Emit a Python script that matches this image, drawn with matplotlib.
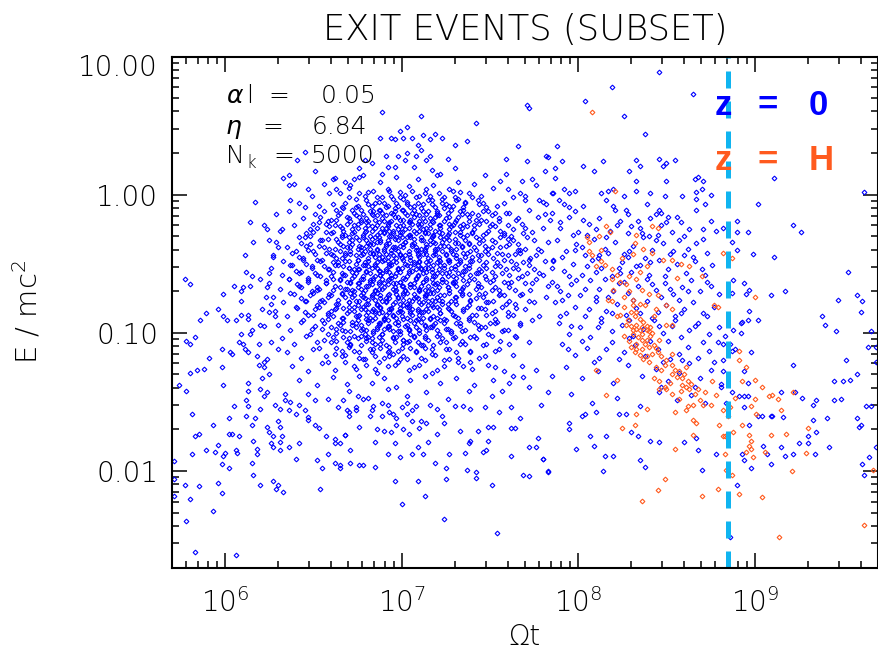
import numpy as np
import matplotlib
matplotlib.use("Agg")
import matplotlib.pyplot as plt

plt.rcParams['font.family'] = ['DejaVu Sans']
plt.rcParams['font.weight'] = 200
plt.rcParams['mathtext.fontset'] = 'custom'
plt.rcParams['mathtext.rm'] = 'DejaVu Sans:weight=200'

# exit events, stored as (log10 Omega t, log10 E/mc^2)
blue_left = [
    (5.77,-0.61),(5.80,-0.65),(5.78,-1.06),(5.80,-1.08),(5.83,-1.03),(5.71,-1.93),(5.74,-1.38),(5.78,-1.42),
    (5.80,-1.29),(5.84,-1.27),(5.88,-1.26),(5.91,-1.18),(5.81,-1.59),(5.83,-1.75),(5.85,-1.73),(5.81,-1.88),
    (5.71,-2.06),(5.77,-2.10),(5.71,-2.18),(5.80,-2.20),(5.78,-2.36),(5.83,-2.59),(6.06,-2.61),(5.93,-2.29),
    (5.85,-2.11),(5.89,-1.85),(5.94,-1.86),(5.96,-1.81),(5.96,-2.09),(5.98,-2.16),(5.98,-1.95),(5.99,-1.89),
    (6.00,-1.87),(6.02,-1.98),(6.06,-1.85),(6.07,-1.87),(6.08,-1.75),(6.02,-1.73),(6.04,-1.73),(5.93,-1.67),
    (6.05,-1.53),(6.02,-1.62),(5.98,-1.25),(5.99,-1.38),(6.03,-1.14),(6.04,-1.15),(6.08,-1.07),(6.09,-1.01),
    (6.10,-1.08),(5.98,-1.12),(5.96,-0.83),(5.99,-0.88),(6.01,-0.91),(6.06,-0.91),(5.86,-0.91),(5.89,-0.86),
    (5.99,-0.72),(6.05,-0.66),(6.09,-0.77),(6.09,-0.70),(6.10,-0.67),(6.14,-0.66),(6.12,-0.56),(6.15,-0.59),
    (6.09,-0.87),(6.13,-0.87),(6.13,-0.90),(6.11,-0.44),(6.16,-0.34),(6.14,-0.20),(6.17,-0.05),(6.11,-1.12),
    (6.13,-1.14),(6.15,-0.98),(6.14,-1.01),(6.13,-1.36),(6.13,-1.42),(6.12,-1.49),(6.13,-1.53),(6.15,-1.67),
    (6.12,-1.60),(6.16,-2.03),(6.15,-1.94),(6.18,-1.88),(6.20,-2.10),(6.20,-0.61),(6.21,-0.83),(6.20,-0.94),
    (6.22,-0.95),(6.22,-0.22),(6.24,-0.25),(6.25,-0.33),(6.27,-0.45),(6.25,-0.57),(6.24,-0.67),(6.23,-0.74),
    (6.26,-0.79),(6.28,-0.88),(6.25,-0.85),(6.29,-0.14),(6.30,-0.38),(6.32,-0.25),(6.33,-2.15),(6.29,-2.13),
    (6.27,-2.07),(6.30,-2.10),(6.26,-1.80),(6.27,-1.83),(6.31,-1.85),(6.32,-1.75),(6.27,-1.75),(6.24,-1.68),
    (6.25,-1.72),(6.20,-1.55),(6.17,-1.62),(6.20,-1.41),(6.24,-1.43),(6.22,-1.46),(6.22,-1.25),(6.25,-1.30),
    (6.19,-1.23),(6.21,-1.33),(6.18,-1.17),(6.22,-1.21),(6.24,-1.19),(6.19,-1.08),(6.26,-1.07),(6.30,-1.12),
    (6.16,-1.78),(6.18,-1.84),(6.28,-1.52),(6.31,-1.55),(6.34,-1.49),(6.30,-1.64),(6.31,-1.68),
    (6.34,-1.44),(6.37,-1.50),(6.42,-1.52),(6.36,-1.56),(6.40,-1.59),(6.45,-1.56),(6.47,-1.63),(6.51,-1.67),
    (6.53,-1.69),(6.57,-1.75),(6.62,-1.80),(6.62,-1.77),(6.68,-1.74),(6.42,-1.80),(6.31,-1.79),(6.36,-1.83),
    (6.40,-1.91),(6.52,-1.92),(6.55,-1.98),(6.58,-1.88),(6.62,-1.94),(6.65,-1.96),(6.71,-1.94),(6.76,-1.96),
    (6.54,-2.13),(6.47,-1.61),(6.51,-1.49),(6.64,-1.54),(6.67,-1.49),(6.70,-1.57),(6.75,-1.46),(6.74,-1.56),
]

blue_upper = [
    (6.89,0.60),(7.11,0.57),(7.42,0.52),(7.71,0.65),(7.72,0.63),(7.66,0.35),(7.30,0.36),(7.37,0.39),
    (7.23,0.41),(7.16,0.40),(7.19,0.44),(7.12,0.43),(7.03,0.49),(6.99,0.46),(7.01,0.41),(6.96,0.40),
    (6.94,0.41),(6.88,0.41),(6.91,0.28),(7.06,0.41),(7.09,0.36),(7.59,0.26),(7.71,0.24),(7.83,0.27),
    (7.47,0.14),(7.59,0.15),(7.68,0.10),(7.74,0.11),(7.76,0.07),(7.67,0.01),(7.70,-0.01),(7.60,0.04),
    (7.78,-0.04),(7.81,-0.14),(7.85,-0.13),(7.85,0.01),(7.26,0.26),(7.30,0.19),(7.32,0.09),(7.16,0.28),
    (7.14,0.25),(7.17,0.18),(7.20,0.14),(7.08,0.28),(7.11,0.32),(7.07,0.20),(7.03,0.30),(7.02,0.25),
    (6.98,0.28),(6.96,0.20),(6.79,0.25),(6.83,0.23),(6.76,0.19),(6.89,0.15),(6.92,0.20),
    (6.41,0.25),(6.45,0.31),(6.51,0.17),(6.33,0.12),(6.36,0.14),(6.36,0.07),(6.39,0.08),(6.37,-0.04),
    (6.42,-0.06),(6.45,-0.09),(6.47,0.04),(6.49,-0.01),(6.56,0.08),(6.59,0.01),(6.61,0.11),(6.63,0.04),
    (6.65,0.01),(6.68,0.09),(6.71,0.07),(6.73,0.11),(6.76,0.13),
]

blue_core = [
    (6.62,0.12),(6.70,0.05),(6.78,0.14),(6.81,0.02),(6.88,0.09),(6.93,0.03),(6.97,0.13),(7.04,0.06),
    (7.09,0.11),(7.13,0.01),(7.18,0.07),(7.22,0.15),(7.27,0.04),(7.33,0.02),(7.41,0.08),(7.45,-0.01),
    (7.52,0.05),(7.56,0.10),(7.63,-0.02),(6.74,-0.03),(6.85,-0.06),(6.99,-0.02),(7.07,-0.08),(7.15,-0.04),
    (7.25,-0.07),(7.36,-0.05),(7.48,-0.09),(7.58,-0.06),(7.70,-0.04),(6.53,-0.08),(6.66,-0.09),(6.91,-0.09),
    (7.02,0.00),(7.30,-0.02),
    (6.36,-0.12),(6.44,-0.17),(6.51,-0.14),(6.58,-0.19),(6.63,-0.11),(6.69,-0.16),(6.73,-0.13),(6.77,-0.18),
    (6.82,-0.12),(6.86,-0.15),(6.90,-0.19),(6.94,-0.13),(6.98,-0.16),(7.01,-0.11),(7.05,-0.18),(7.08,-0.14),
    (7.12,-0.12),(7.16,-0.17),(7.20,-0.13),(7.24,-0.19),(7.28,-0.11),(7.32,-0.16),(7.37,-0.14),(7.42,-0.18),
    (7.46,-0.12),(7.51,-0.15),(7.55,-0.19),(7.61,-0.13),(7.66,-0.17),(7.72,-0.11),(7.77,-0.16),(6.96,-0.10),
    (7.10,-0.19),(6.80,-0.17),(7.35,-0.11),(7.03,-0.15),(6.87,-0.11),(7.19,-0.16),
    (6.31,-0.26),(6.39,-0.22),(6.46,-0.28),(6.52,-0.24),(6.57,-0.21),(6.61,-0.27),(6.65,-0.23),(6.68,-0.29),
    (6.72,-0.25),(6.75,-0.21),(6.79,-0.27),(6.83,-0.23),(6.86,-0.29),(6.89,-0.24),(6.92,-0.21),(6.95,-0.28),
    (6.98,-0.25),(7.01,-0.22),(7.04,-0.29),(7.07,-0.26),(7.10,-0.23),(7.13,-0.28),(7.16,-0.21),(7.19,-0.26),
    (7.22,-0.24),(7.26,-0.29),(7.29,-0.22),(7.33,-0.27),(7.37,-0.23),(7.40,-0.28),(7.44,-0.21),(7.49,-0.26),
    (7.53,-0.23),(7.58,-0.28),(7.63,-0.25),(7.68,-0.21),(7.74,-0.27),(7.80,-0.24),(6.93,-0.26),(7.06,-0.21),
    (7.18,-0.29),(6.81,-0.22),(7.27,-0.25),(6.99,-0.29),(7.12,-0.25),(6.88,-0.27),(7.35,-0.21),
    (6.29,-0.34),(6.35,-0.38),(6.42,-0.31),(6.48,-0.36),(6.54,-0.33),(6.59,-0.39),(6.63,-0.32),(6.67,-0.37),
    (6.70,-0.34),(6.74,-0.31),(6.77,-0.38),(6.80,-0.33),(6.84,-0.36),(6.87,-0.31),(6.90,-0.39),(6.93,-0.35),
    (6.96,-0.32),(6.99,-0.37),(7.02,-0.34),(7.05,-0.31),(7.08,-0.38),(7.11,-0.33),(7.14,-0.36),(7.17,-0.31),
    (7.20,-0.39),(7.23,-0.34),(7.26,-0.37),(7.30,-0.32),(7.34,-0.38),(7.38,-0.35),(7.42,-0.31),(7.47,-0.37),
    (7.51,-0.33),(7.56,-0.38),(7.60,-0.32),(7.66,-0.36),(7.71,-0.31),(7.77,-0.39),(7.83,-0.34),(6.82,-0.39),
    (6.95,-0.38),(7.07,-0.35),(7.19,-0.35),(7.32,-0.35),(6.72,-0.36),(7.00,-0.31),(7.13,-0.39),(6.86,-0.34),
    (7.25,-0.31),(7.44,-0.35),
    (6.27,-0.44),(6.33,-0.48),(6.38,-0.42),(6.44,-0.46),(6.50,-0.41),(6.55,-0.47),(6.60,-0.43),(6.64,-0.49),
    (6.68,-0.44),(6.71,-0.41),(6.75,-0.47),(6.78,-0.43),(6.81,-0.48),(6.84,-0.42),(6.87,-0.46),(6.90,-0.41),
    (6.92,-0.48),(6.95,-0.44),(6.98,-0.41),(7.01,-0.47),(7.04,-0.43),(7.07,-0.49),(7.10,-0.45),(7.13,-0.41),
    (7.16,-0.47),(7.19,-0.43),(7.22,-0.48),(7.25,-0.44),(7.28,-0.41),(7.31,-0.46),(7.35,-0.42),(7.39,-0.48),
    (7.43,-0.44),(7.47,-0.41),(7.52,-0.46),(7.57,-0.43),(7.62,-0.48),(7.67,-0.42),(7.73,-0.46),(7.79,-0.41),
    (7.86,-0.47),(6.85,-0.45),(6.97,-0.46),(7.09,-0.42),(7.21,-0.45),(7.33,-0.49),(6.77,-0.40),(7.02,-0.44),
    (7.14,-0.49),(6.91,-0.43),(7.27,-0.47),(7.40,-0.45),(6.66,-0.46),
    (6.26,-0.53),(6.32,-0.58),(6.37,-0.51),(6.43,-0.56),(6.49,-0.52),(6.54,-0.59),(6.58,-0.54),(6.62,-0.51),
    (6.66,-0.57),(6.70,-0.53),(6.73,-0.59),(6.76,-0.54),(6.79,-0.51),(6.82,-0.57),(6.85,-0.52),(6.88,-0.58),
    (6.91,-0.54),(6.94,-0.51),(6.97,-0.57),(7.00,-0.53),(7.03,-0.59),(7.06,-0.55),(7.09,-0.51),(7.12,-0.57),
    (7.15,-0.53),(7.18,-0.59),(7.21,-0.54),(7.24,-0.51),(7.27,-0.56),(7.30,-0.52),(7.34,-0.58),(7.38,-0.53),
    (7.42,-0.57),(7.46,-0.51),(7.51,-0.56),(7.56,-0.52),(7.61,-0.58),(7.66,-0.54),(7.72,-0.51),(7.78,-0.57),
    (7.85,-0.53),(6.80,-0.55),(6.93,-0.56),(7.05,-0.52),(7.17,-0.56),(7.29,-0.59),(6.98,-0.54),(7.11,-0.54),
    (6.87,-0.55),(7.23,-0.57),(7.36,-0.55),(6.72,-0.56),(7.45,-0.55),
    (6.25,-0.64),(6.31,-0.68),(6.36,-0.61),(6.42,-0.66),(6.47,-0.62),(6.52,-0.69),(6.57,-0.64),(6.61,-0.61),
    (6.65,-0.67),(6.69,-0.63),(6.72,-0.69),(6.75,-0.64),(6.78,-0.61),(6.81,-0.66),(6.84,-0.62),(6.87,-0.68),
    (6.90,-0.64),(6.93,-0.61),(6.96,-0.67),(6.99,-0.63),(7.02,-0.69),(7.05,-0.65),(7.08,-0.61),(7.11,-0.66),
    (7.14,-0.62),(7.17,-0.68),(7.20,-0.64),(7.23,-0.61),(7.26,-0.67),(7.30,-0.63),(7.34,-0.68),(7.38,-0.62),
    (7.43,-0.66),(7.48,-0.61),(7.53,-0.67),(7.58,-0.63),(7.64,-0.69),(7.70,-0.64),(7.76,-0.61),(7.83,-0.66),
    (6.83,-0.65),(6.95,-0.64),(7.07,-0.67),(7.19,-0.65),(7.31,-0.66),(6.89,-0.61),(7.01,-0.66),(7.13,-0.69),
    (6.77,-0.68),(7.25,-0.63),
    (6.27,-0.74),(6.33,-0.78),(6.39,-0.72),(6.45,-0.77),(6.50,-0.71),(6.55,-0.76),(6.60,-0.73),(6.64,-0.79),
    (6.68,-0.74),(6.71,-0.71),(6.74,-0.77),(6.77,-0.73),(6.80,-0.79),(6.83,-0.74),(6.86,-0.71),(6.89,-0.77),
    (6.92,-0.73),(6.95,-0.79),(6.98,-0.75),(7.01,-0.71),(7.04,-0.76),(7.07,-0.72),(7.10,-0.78),(7.13,-0.74),
    (7.16,-0.71),(7.19,-0.77),(7.22,-0.73),(7.26,-0.79),(7.30,-0.74),(7.34,-0.71),(7.39,-0.76),(7.44,-0.72),
    (7.49,-0.78),(7.55,-0.73),(7.61,-0.77),(7.68,-0.72),(7.75,-0.78),(7.82,-0.74),(6.85,-0.76),(6.97,-0.72),
    (7.09,-0.75),(7.21,-0.76),(6.91,-0.75),(7.03,-0.79),(7.15,-0.77),(6.79,-0.75),(7.28,-0.77),
    (6.28,-0.84),(6.35,-0.88),(6.41,-0.82),(6.47,-0.87),(6.53,-0.81),(6.58,-0.86),(6.62,-0.83),(6.66,-0.89),
    (6.70,-0.84),(6.73,-0.81),(6.76,-0.87),(6.79,-0.83),(6.82,-0.89),(6.85,-0.84),(6.88,-0.81),(6.91,-0.87),
    (6.94,-0.83),(6.97,-0.89),(7.00,-0.85),(7.03,-0.81),(7.06,-0.87),(7.09,-0.83),(7.12,-0.89),(7.15,-0.84),
    (7.18,-0.81),(7.22,-0.86),(7.26,-0.82),(7.30,-0.88),(7.35,-0.83),(7.40,-0.87),(7.45,-0.82),(7.51,-0.86),
    (7.57,-0.81),(7.63,-0.87),(7.70,-0.83),(7.78,-0.88),(6.87,-0.86),(6.99,-0.82),(7.11,-0.85),(6.93,-0.85),
    (7.05,-0.84),(7.20,-0.89),(6.81,-0.85),
    (6.30,-0.94),(6.37,-0.98),(6.43,-0.92),(6.49,-0.97),(6.55,-0.91),(6.60,-0.96),(6.64,-0.93),(6.68,-0.99),
    (6.72,-0.94),(6.75,-0.91),(6.78,-0.97),(6.81,-0.93),(6.84,-0.99),(6.87,-0.94),(6.90,-0.91),(6.93,-0.97),
    (6.96,-0.93),(6.99,-0.99),(7.02,-0.95),(7.05,-0.91),(7.08,-0.96),(7.11,-0.92),(7.14,-0.98),(7.18,-0.94),
    (7.22,-0.91),(7.26,-0.97),(7.31,-0.93),(7.36,-0.98),(7.41,-0.92),(7.47,-0.96),(7.53,-0.93),(7.60,-0.98),
    (7.67,-0.94),(7.74,-0.91),(6.92,-0.95),(7.04,-0.98),(6.86,-0.96),(7.16,-0.96),
    (6.32,-1.04),(6.39,-1.08),(6.46,-1.02),(6.52,-1.07),(6.58,-1.01),(6.63,-1.06),(6.67,-1.03),(6.71,-1.09),
    (6.75,-1.04),(6.79,-1.01),(6.83,-1.07),(6.87,-1.03),(6.91,-1.09),(6.95,-1.04),(6.99,-1.01),(7.03,-1.07),
    (7.07,-1.03),(7.11,-1.09),(7.15,-1.05),(7.20,-1.02),(7.25,-1.07),(7.30,-1.03),(7.36,-1.08),(7.42,-1.04),
    (7.49,-1.01),(7.56,-1.06),(7.64,-1.02),(7.72,-1.07),(6.89,-1.05),(7.01,-1.05),(6.80,-1.04),
    (6.35,-1.14),(6.43,-1.18),(6.50,-1.12),(6.57,-1.17),(6.63,-1.11),(6.68,-1.16),(6.73,-1.13),(6.78,-1.19),
    (6.83,-1.14),(6.88,-1.11),(6.93,-1.17),(6.98,-1.13),(7.03,-1.19),(7.08,-1.14),(7.13,-1.11),(7.19,-1.16),
    (7.25,-1.12),(7.32,-1.18),(7.39,-1.13),(7.47,-1.17),(7.55,-1.12),(7.63,-1.16),(6.95,-1.15),(6.85,-1.17),
    (6.38,-1.24),(6.47,-1.28),(6.55,-1.22),(6.62,-1.27),(6.68,-1.21),(6.74,-1.26),(6.80,-1.23),(6.86,-1.29),
    (6.92,-1.24),(6.98,-1.21),(7.04,-1.27),(7.10,-1.23),(7.17,-1.29),(7.24,-1.24),(7.32,-1.21),(7.40,-1.26),
    (7.49,-1.23),(7.58,-1.28),(7.68,-1.24),
    (6.42,-1.34),(6.52,-1.38),(6.61,-1.32),(6.69,-1.37),(6.76,-1.31),(6.83,-1.36),(6.90,-1.33),(6.97,-1.39),
    (7.05,-1.34),(7.13,-1.31),(7.22,-1.36),(7.31,-1.33),(7.41,-1.38),(7.52,-1.34),(7.63,-1.31),
    (6.47,-1.44),(6.58,-1.48),(6.70,-1.42),(6.81,-1.47),(6.92,-1.41),(7.03,-1.46),(7.14,-1.43),(7.26,-1.48),
    (7.38,-1.42),(7.51,-1.46),
]

blue_core_dense = [
    (6.76,0.01),(6.80,-0.04),(6.84,0.03),(6.89,-0.02),(6.92,0.04),(6.95,-0.03),(6.99,0.02),(7.03,-0.05),
    (7.06,0.03),(7.10,-0.01),(7.14,0.04),(7.17,-0.04),(7.21,0.01),(7.24,-0.02),(7.29,0.03),(7.32,-0.03),
    (7.38,0.01),(7.43,-0.04),
    (6.61,-0.07),(6.65,-0.13),(6.68,-0.06),(6.72,-0.11),(6.75,-0.08),(6.78,-0.14),(6.81,-0.07),(6.84,-0.12),
    (6.87,-0.05),(6.89,-0.13),(6.92,-0.08),(6.95,-0.14),(6.97,-0.06),(7.00,-0.11),(7.03,-0.07),(7.06,-0.13),
    (7.09,-0.06),(7.11,-0.10),(7.14,-0.14),(7.17,-0.07),(7.20,-0.12),(7.23,-0.06),(7.26,-0.13),(7.29,-0.08),
    (7.33,-0.12),(7.36,-0.06),(7.40,-0.13),(7.44,-0.07),(7.49,-0.12),(7.54,-0.08),(7.59,-0.13),
    (6.50,-0.21),(6.54,-0.16),(6.59,-0.23),(6.63,-0.18),(6.66,-0.24),(6.70,-0.17),(6.73,-0.22),(6.76,-0.16),
    (6.79,-0.24),(6.81,-0.19),(6.84,-0.15),(6.86,-0.22),(6.89,-0.17),(6.91,-0.24),(6.94,-0.19),(6.96,-0.16),
    (6.99,-0.23),(7.01,-0.18),(7.04,-0.24),(7.07,-0.16),(7.09,-0.21),(7.12,-0.17),(7.14,-0.24),(7.17,-0.19),
    (7.20,-0.15),(7.22,-0.22),(7.25,-0.17),(7.28,-0.23),(7.31,-0.18),(7.34,-0.24),(7.38,-0.16),(7.41,-0.22),
    (7.45,-0.18),(7.50,-0.23),(7.55,-0.17),(7.60,-0.22),(7.65,-0.18),(7.70,-0.24),
    (6.45,-0.31),(6.50,-0.27),(6.55,-0.33),(6.60,-0.28),(6.64,-0.34),(6.67,-0.26),(6.70,-0.31),(6.73,-0.27),
    (6.76,-0.33),(6.78,-0.29),(6.81,-0.35),(6.83,-0.26),(6.85,-0.31),(6.88,-0.34),(6.90,-0.28),(6.92,-0.33),
    (6.95,-0.26),(6.97,-0.31),(7.00,-0.27),(7.02,-0.34),(7.05,-0.29),(7.07,-0.32),(7.10,-0.26),(7.12,-0.33),
    (7.15,-0.28),(7.18,-0.34),(7.21,-0.27),(7.24,-0.32),(7.27,-0.28),(7.30,-0.35),(7.33,-0.29),(7.36,-0.33),
    (7.40,-0.27),(7.44,-0.32),(7.48,-0.28),(7.53,-0.34),(7.58,-0.29),(7.63,-0.33),(7.69,-0.28),(7.75,-0.33),
    (6.40,-0.41),(6.46,-0.37),(6.51,-0.43),(6.56,-0.38),(6.61,-0.44),(6.65,-0.36),(6.68,-0.42),(6.71,-0.38),
    (6.74,-0.44),(6.76,-0.37),(6.79,-0.41),(6.82,-0.36),(6.84,-0.43),(6.86,-0.39),(6.89,-0.45),(6.91,-0.37),
    (6.94,-0.42),(6.96,-0.38),(6.99,-0.44),(7.01,-0.36),(7.04,-0.41),(7.06,-0.37),(7.09,-0.44),(7.11,-0.39),
    (7.14,-0.43),(7.16,-0.36),(7.19,-0.41),(7.22,-0.37),(7.25,-0.43),(7.28,-0.39),(7.31,-0.44),(7.34,-0.37),
    (7.37,-0.42),(7.41,-0.38),(7.45,-0.44),(7.49,-0.39),(7.54,-0.42),(7.59,-0.37),(7.64,-0.43),(7.70,-0.39),
    (7.76,-0.44),
    (6.38,-0.51),(6.44,-0.47),(6.49,-0.53),(6.54,-0.48),(6.59,-0.54),(6.63,-0.46),(6.67,-0.52),(6.70,-0.48),
    (6.73,-0.54),(6.75,-0.47),(6.78,-0.51),(6.81,-0.46),(6.83,-0.53),(6.86,-0.49),(6.88,-0.55),(6.90,-0.47),
    (6.93,-0.52),(6.95,-0.48),(6.98,-0.54),(7.00,-0.46),(7.03,-0.51),(7.05,-0.47),(7.08,-0.54),(7.10,-0.49),
    (7.13,-0.53),(7.15,-0.46),(7.18,-0.51),(7.21,-0.47),(7.24,-0.53),(7.27,-0.49),(7.30,-0.54),(7.33,-0.47),
    (7.36,-0.52),(7.40,-0.48),(7.44,-0.54),(7.48,-0.49),(7.53,-0.52),(7.58,-0.47),(7.63,-0.53),(7.69,-0.49),
    (7.75,-0.54),(7.81,-0.48),
    (6.36,-0.61),(6.42,-0.57),(6.47,-0.63),(6.52,-0.58),(6.57,-0.64),(6.61,-0.56),(6.65,-0.62),(6.68,-0.58),
    (6.71,-0.64),(6.74,-0.57),(6.77,-0.61),(6.80,-0.56),(6.82,-0.63),(6.85,-0.59),(6.87,-0.65),(6.89,-0.57),
    (6.92,-0.62),(6.94,-0.58),(6.97,-0.64),(6.99,-0.56),(7.02,-0.61),(7.04,-0.57),(7.07,-0.64),(7.09,-0.59),
    (7.12,-0.63),(7.14,-0.56),(7.17,-0.61),(7.20,-0.57),(7.23,-0.63),(7.26,-0.59),(7.29,-0.64),(7.32,-0.57),
    (7.35,-0.62),(7.39,-0.58),(7.43,-0.64),(7.47,-0.59),(7.52,-0.62),(7.57,-0.57),(7.62,-0.63),(7.68,-0.59),
    (7.74,-0.64),(7.80,-0.58),
    (6.37,-0.71),(6.43,-0.67),(6.48,-0.73),(6.53,-0.68),(6.58,-0.74),(6.62,-0.66),(6.66,-0.72),(6.69,-0.68),
    (6.72,-0.74),(6.75,-0.67),(6.78,-0.71),(6.80,-0.66),(6.83,-0.73),(6.85,-0.69),(6.88,-0.75),(6.90,-0.67),
    (6.93,-0.72),(6.95,-0.68),(6.98,-0.74),(7.00,-0.66),(7.03,-0.71),(7.05,-0.67),(7.08,-0.74),(7.10,-0.69),
    (7.13,-0.73),(7.15,-0.66),(7.18,-0.71),(7.21,-0.67),(7.24,-0.73),(7.27,-0.69),(7.31,-0.74),(7.35,-0.67),
    (7.38,-0.72),(7.42,-0.68),(7.46,-0.74),(7.51,-0.69),(7.56,-0.72),(7.61,-0.67),(7.67,-0.73),(7.73,-0.69),
    (6.40,-0.81),(6.46,-0.77),(6.51,-0.83),(6.56,-0.78),(6.60,-0.84),(6.64,-0.76),(6.67,-0.82),(6.70,-0.78),
    (6.73,-0.84),(6.76,-0.77),(6.78,-0.81),(6.81,-0.76),(6.84,-0.83),(6.86,-0.79),(6.89,-0.85),(6.91,-0.77),
    (6.94,-0.82),(6.96,-0.78),(6.99,-0.84),(7.01,-0.76),(7.04,-0.81),(7.06,-0.77),(7.09,-0.84),(7.11,-0.79),
    (7.14,-0.83),(7.17,-0.76),(7.20,-0.81),(7.23,-0.77),(7.27,-0.83),(7.31,-0.79),(7.35,-0.84),(7.39,-0.77),
    (7.43,-0.82),(7.48,-0.78),(7.53,-0.84),(7.59,-0.79),(7.65,-0.82),(7.72,-0.77),
    (6.44,-0.91),(6.50,-0.87),(6.56,-0.93),(6.61,-0.88),(6.65,-0.94),(6.69,-0.86),(6.72,-0.92),(6.75,-0.88),
    (6.77,-0.94),(6.80,-0.87),(6.83,-0.91),(6.85,-0.86),(6.88,-0.93),(6.90,-0.89),(6.93,-0.95),(6.95,-0.87),
    (6.98,-0.92),(7.00,-0.88),(7.03,-0.94),(7.05,-0.86),(7.08,-0.91),(7.10,-0.87),(7.13,-0.94),(7.16,-0.89),
    (7.19,-0.93),(7.22,-0.86),(7.25,-0.91),(7.29,-0.87),(7.33,-0.93),(7.38,-0.89),(7.43,-0.94),(7.48,-0.87),
    (7.54,-0.92),(7.60,-0.88),(7.67,-0.93),
    (6.48,-1.01),(6.55,-0.97),(6.61,-1.03),(6.66,-0.98),(6.70,-1.04),(6.74,-0.96),(6.77,-1.02),(6.80,-0.98),
    (6.83,-1.04),(6.86,-0.97),(6.89,-1.01),(6.92,-0.96),(6.95,-1.03),(6.98,-0.99),(7.01,-1.05),(7.04,-0.97),
    (7.07,-1.02),(7.10,-0.98),(7.13,-1.04),(7.17,-0.96),(7.21,-1.01),(7.25,-0.97),(7.29,-1.04),(7.34,-0.99),
    (7.39,-1.03),(7.45,-0.96),(7.51,-1.02),(7.58,-0.98),(7.65,-1.03),
    (6.53,-1.11),(6.60,-1.07),(6.66,-1.13),(6.71,-1.08),(6.76,-1.14),(6.80,-1.06),(6.84,-1.12),(6.88,-1.08),
    (6.92,-1.14),(6.96,-1.07),(7.00,-1.11),(7.04,-1.06),(7.08,-1.13),(7.12,-1.09),(7.17,-1.15),(7.22,-1.07),
    (7.27,-1.12),(7.33,-1.08),(7.39,-1.14),(7.46,-1.09),(7.53,-1.13),(7.61,-1.08),
    (6.58,-1.21),(6.66,-1.17),(6.73,-1.24),(6.79,-1.19),(6.85,-1.26),(6.90,-1.18),(6.96,-1.23),(7.01,-1.17),
    (7.07,-1.25),(7.13,-1.20),(7.20,-1.27),(7.27,-1.19),(7.35,-1.24),(7.44,-1.18),(7.53,-1.25),
]

blue_core_fill = [
    (6.70,-0.02),(6.74,-0.09),(6.79,-0.01),(6.83,-0.08),(6.86,-0.02),(6.90,-0.06),(6.94,-0.01),(6.98,-0.08),
    (7.01,-0.03),(7.05,-0.09),(7.08,-0.02),(7.12,-0.07),(7.16,-0.01),(7.19,-0.09),(7.23,-0.03),(7.27,-0.08),
    (7.31,-0.04),(7.35,-0.09),(7.40,-0.02),(7.46,-0.06),
    (6.56,-0.12),(6.60,-0.18),(6.64,-0.15),(6.67,-0.10),(6.71,-0.19),(6.74,-0.15),(6.77,-0.11),(6.80,-0.20),
    (6.83,-0.14),(6.85,-0.18),(6.88,-0.11),(6.91,-0.15),(6.93,-0.20),(6.96,-0.12),(6.99,-0.18),(7.02,-0.13),
    (7.04,-0.20),(7.07,-0.11),(7.10,-0.15),(7.13,-0.19),(7.15,-0.12),(7.18,-0.20),(7.21,-0.15),(7.24,-0.10),
    (7.27,-0.16),(7.30,-0.20),(7.34,-0.14),(7.38,-0.19),(7.43,-0.15),(7.48,-0.19),(7.53,-0.13),
    (6.48,-0.25),(6.53,-0.20),(6.57,-0.27),(6.62,-0.22),(6.66,-0.29),(6.69,-0.21),(6.72,-0.28),(6.75,-0.24),
    (6.77,-0.20),(6.80,-0.26),(6.82,-0.30),(6.85,-0.24),(6.87,-0.20),(6.90,-0.27),(6.92,-0.23),(6.94,-0.30),
    (6.97,-0.22),(6.99,-0.27),(7.02,-0.25),(7.05,-0.20),(7.08,-0.28),(7.11,-0.21),(7.13,-0.27),(7.16,-0.24),
    (7.18,-0.30),(7.21,-0.22),(7.23,-0.28),(7.27,-0.21),(7.30,-0.27),(7.33,-0.23),(7.37,-0.29),(7.41,-0.25),
    (7.46,-0.29),(7.51,-0.21),(7.56,-0.26),(7.62,-0.30),
    (6.43,-0.35),(6.48,-0.30),(6.53,-0.37),(6.58,-0.32),(6.62,-0.39),(6.66,-0.31),(6.69,-0.38),(6.72,-0.33),
    (6.75,-0.39),(6.78,-0.31),(6.80,-0.37),(6.83,-0.32),(6.86,-0.40),(6.88,-0.33),(6.91,-0.36),(6.93,-0.30),
    (6.96,-0.39),(6.98,-0.33),(7.01,-0.38),(7.03,-0.31),(7.06,-0.36),(7.09,-0.40),(7.11,-0.31),(7.14,-0.38),
    (7.16,-0.33),(7.19,-0.39),(7.22,-0.31),(7.24,-0.37),(7.27,-0.33),(7.31,-0.39),(7.35,-0.31),(7.38,-0.36),
    (7.42,-0.40),(7.46,-0.33),(7.51,-0.38),(7.56,-0.31),(7.61,-0.36),(7.67,-0.40),
    (6.42,-0.45),(6.47,-0.40),(6.52,-0.47),(6.57,-0.42),(6.61,-0.49),(6.65,-0.41),(6.68,-0.48),(6.71,-0.43),
    (6.74,-0.50),(6.77,-0.44),(6.79,-0.49),(6.82,-0.42),(6.85,-0.50),(6.87,-0.43),(6.89,-0.48),(6.92,-0.45),
    (6.94,-0.40),(6.97,-0.49),(6.99,-0.43),(7.02,-0.50),(7.05,-0.45),(7.08,-0.40),(7.10,-0.48),(7.12,-0.43),
    (7.15,-0.50),(7.18,-0.44),(7.20,-0.49),(7.23,-0.41),(7.26,-0.47),(7.29,-0.43),(7.32,-0.50),(7.36,-0.45),
    (7.39,-0.41),(7.44,-0.47),(7.49,-0.43),(7.54,-0.49),(7.60,-0.44),(7.66,-0.40),(7.72,-0.47),
    (6.40,-0.55),(6.46,-0.50),(6.51,-0.57),(6.56,-0.52),(6.60,-0.59),(6.64,-0.51),(6.67,-0.58),(6.70,-0.53),
    (6.72,-0.60),(6.75,-0.54),(6.78,-0.59),(6.81,-0.52),(6.84,-0.60),(6.86,-0.53),(6.88,-0.58),(6.91,-0.55),
    (6.93,-0.50),(6.96,-0.59),(6.98,-0.53),(7.01,-0.60),(7.04,-0.55),(7.07,-0.50),(7.09,-0.58),(7.11,-0.53),
    (7.14,-0.60),(7.17,-0.54),(7.19,-0.59),(7.22,-0.51),(7.25,-0.57),(7.28,-0.53),(7.31,-0.60),(7.35,-0.55),
    (7.38,-0.51),(7.43,-0.57),(7.48,-0.53),(7.53,-0.59),(7.59,-0.54),(7.65,-0.50),(7.71,-0.57),
    (6.41,-0.65),(6.47,-0.60),(6.52,-0.67),(6.57,-0.62),(6.61,-0.69),(6.65,-0.61),(6.68,-0.68),(6.71,-0.63),
    (6.73,-0.70),(6.76,-0.64),(6.79,-0.69),(6.82,-0.62),(6.85,-0.70),(6.87,-0.63),(6.89,-0.68),(6.92,-0.65),
    (6.94,-0.60),(6.97,-0.69),(6.99,-0.63),(7.02,-0.70),(7.05,-0.65),(7.08,-0.60),(7.10,-0.68),(7.12,-0.63),
    (7.15,-0.70),(7.18,-0.64),(7.20,-0.69),(7.23,-0.61),(7.26,-0.67),(7.29,-0.63),(7.33,-0.70),(7.37,-0.65),
    (7.41,-0.61),(7.45,-0.67),(7.50,-0.63),(7.55,-0.69),(7.60,-0.64),(7.66,-0.60),
    (6.43,-0.75),(6.49,-0.70),(6.54,-0.77),(6.59,-0.72),(6.63,-0.79),(6.66,-0.71),(6.70,-0.78),(6.73,-0.73),
    (6.75,-0.80),(6.78,-0.74),(6.81,-0.79),(6.84,-0.72),(6.86,-0.80),(6.88,-0.73),(6.91,-0.78),(6.93,-0.75),
    (6.96,-0.70),(6.99,-0.79),(7.01,-0.73),(7.04,-0.80),(7.07,-0.75),(7.10,-0.70),(7.12,-0.78),(7.14,-0.73),
    (7.17,-0.80),(7.20,-0.74),(7.23,-0.79),(7.27,-0.71),(7.30,-0.77),(7.34,-0.73),(7.38,-0.80),(7.42,-0.75),
    (7.47,-0.71),(7.52,-0.77),(7.58,-0.73),(7.64,-0.79),
    (6.45,-0.85),(6.52,-0.80),(6.58,-0.87),(6.63,-0.82),(6.67,-0.89),(6.70,-0.81),(6.74,-0.88),(6.77,-0.83),
    (6.80,-0.90),(6.83,-0.84),(6.85,-0.89),(6.88,-0.82),(6.90,-0.90),(6.93,-0.83),(6.95,-0.88),(6.98,-0.85),
    (7.01,-0.80),(7.03,-0.89),(7.06,-0.83),(7.09,-0.90),(7.12,-0.85),(7.15,-0.80),(7.18,-0.88),(7.21,-0.83),
    (7.24,-0.90),(7.28,-0.84),(7.32,-0.89),(7.37,-0.81),(7.42,-0.87),(7.47,-0.83),(7.53,-0.90),(7.60,-0.85),
    (6.51,-0.95),(6.58,-0.90),(6.63,-0.97),(6.67,-0.92),(6.71,-0.99),(6.74,-0.93),(6.77,-0.98),(6.81,-0.91),
    (6.84,-1.00),(6.87,-0.93),(6.90,-0.97),(6.92,-0.91),(6.95,-0.99),(6.98,-0.94),(7.01,-0.90),(7.04,-0.98),
    (7.07,-0.93),(7.10,-1.00),(7.13,-0.95),(7.16,-0.90),(7.20,-0.98),(7.24,-0.93),(7.28,-0.99),(7.33,-0.95),
    (7.38,-0.91),(7.44,-0.97),(7.50,-0.93),(7.57,-0.99),
    (6.56,-1.05),(6.63,-1.00),(6.69,-1.07),(6.73,-1.02),(6.77,-1.09),(6.81,-1.03),(6.85,-1.08),(6.89,-1.01),
    (6.93,-1.10),(6.97,-1.03),(7.01,-1.08),(7.05,-1.01),(7.09,-1.07),(7.13,-1.02),(7.18,-1.09),(7.23,-1.04),
    (7.28,-1.00),(7.34,-1.06),(7.41,-1.02),(7.48,-1.08),
    (6.62,-1.15),(6.70,-1.10),(6.76,-1.18),(6.82,-1.12),(6.87,-1.21),(6.93,-1.13),(6.99,-1.19),(7.05,-1.11),
    (7.11,-1.18),(7.17,-1.12),(7.24,-1.20),(7.31,-1.14),(7.39,-1.21),
]

blue_lower = [
    (7.00,-2.24),(7.24,-2.35),(7.54,-2.45),(6.96,-2.07),(7.09,-2.07),(7.13,-2.18),(7.25,-2.06),(7.25,-1.98),
    (7.37,-1.99),(7.42,-2.01),(7.42,-2.05),(7.51,-2.10),(7.69,-2.03),(7.72,-2.04),(7.83,-2.01),(7.19,-1.94),
    (6.92,-1.88),(6.99,-1.90),(7.06,-1.88),(7.09,-1.83),(7.12,-1.88),(7.27,-1.88),(7.36,-1.87),(7.38,-1.80),
    (7.39,-1.78),(7.46,-1.86),(7.48,-1.85),(7.49,-1.78),(7.62,-1.89),(7.72,-1.83),(7.76,-1.83),(7.77,-1.76),
    (7.80,-1.91),(6.96,-1.80),(6.85,-1.79),(7.20,-1.73),(7.15,-1.79),(7.43,-1.71),(7.33,-1.71),(7.49,-1.68),
    (7.52,-1.68),(7.62,-1.69),(7.64,-1.69),(7.67,-1.62),(6.76,-1.68),(6.86,-1.70),(6.90,-1.71),(6.94,-1.72),
    (6.97,-1.67),(7.01,-1.70),(7.04,-1.73),(7.06,-1.64),(7.10,-1.69),(7.11,-1.64),(7.14,-1.65),(7.24,-1.65),
    (6.71,-1.85),(6.78,-1.96),(6.85,-1.97),(6.65,-1.80),(6.65,-1.98),(6.68,-1.74),(7.47,-1.54),(7.55,-1.57),
    (7.62,-1.54),(7.30,-1.53),(7.35,-1.53),(7.39,-1.55),(7.16,-1.52),(7.20,-1.55),(7.23,-1.60),(6.93,-1.57),
    (6.95,-1.59),(6.97,-1.62),(6.92,-1.52),(6.89,-1.51),(7.00,-1.54),(7.03,-1.51),(7.06,-1.56),(7.03,-1.59),
    (7.08,-1.53),(6.82,-1.60),(6.83,-1.56),(6.84,-1.53),(6.89,-1.60),(6.69,-1.56),(6.70,-1.60),(6.74,-1.54),
    (6.78,-1.48),(7.69,-1.32),(7.76,-1.27),(7.72,-1.39),(7.85,-1.31),(7.83,-1.43),(7.57,-1.42),(7.61,-1.36),
]

blue_second = [
    (8.46,0.89),(8.19,0.78),(8.65,0.73),(8.04,0.68),(8.26,0.57),(8.38,0.44),(7.88,0.35),(7.82,0.28),
    (7.91,0.24),(8.03,0.21),(8.14,0.24),(7.81,0.17),(7.87,0.19),(8.09,0.17),(8.33,0.25),(8.35,0.21),
    (8.29,0.17),(8.46,0.26),(8.50,0.23),(8.48,0.21),(8.55,0.25),(7.87,0.12),(8.33,0.10),(8.50,0.10),
    (8.66,0.11),(8.71,0.10),(8.68,0.13),(7.86,0.01),(7.92,0.04),(7.98,0.03),(7.95,0.01),(8.13,0.01),
    (8.17,0.03),(8.20,0.04),(8.26,-0.01),(8.33,0.03),(8.41,0.01),(8.49,-0.01),(8.59,-0.01),(8.70,0.04),
    (8.67,0.02),(8.67,-0.03),(8.75,0.00),(8.72,-0.07),(8.67,-0.11),(8.75,-0.19),(8.71,-0.25),(8.71,-0.32),
    (8.78,-0.26),(8.82,-0.24),(7.80,-0.05),(7.82,-0.07),(7.89,-0.04),(7.92,-0.07),(7.95,-0.09),(7.98,-0.12),
    (8.03,-0.08),(8.16,-0.04),(8.20,-0.08),(8.21,-0.11),(8.27,-0.11),(8.28,-0.14),(8.39,-0.07),(8.44,-0.14),
    (8.46,-0.11),(8.47,-0.13),(8.51,-0.16),
    (7.84,-0.18),(7.90,-0.24),(7.95,-0.16),(8.00,-0.27),(8.06,-0.21),(8.12,-0.17),(8.18,-0.26),(8.24,-0.19),
    (8.30,-0.23),(8.36,-0.28),(8.41,-0.17),(8.47,-0.22),(8.53,-0.27),(8.58,-0.20),(8.63,-0.25),(8.05,-0.29),
    (8.34,-0.19),(8.45,-0.29),(8.56,-0.16),
    (7.88,-0.33),(7.93,-0.41),(7.99,-0.36),(8.04,-0.44),(8.09,-0.32),(8.15,-0.39),(8.21,-0.34),(8.26,-0.43),
    (8.31,-0.37),(8.37,-0.31),(8.42,-0.40),(8.48,-0.35),(8.52,-0.43),(8.57,-0.33),(8.62,-0.39),(8.67,-0.35),
    (8.73,-0.42),(8.02,-0.38),(8.29,-0.41),(8.44,-0.33),(8.12,-0.44),(8.60,-0.44),
    (7.86,-0.48),(7.92,-0.55),(7.97,-0.50),(8.02,-0.58),(8.08,-0.47),(8.13,-0.53),(8.19,-0.59),(8.25,-0.49),
    (8.30,-0.56),(8.35,-0.51),(8.40,-0.58),(8.46,-0.47),(8.51,-0.54),(8.56,-0.50),(8.61,-0.57),(8.66,-0.48),
    (8.70,-0.54),(8.76,-0.51),(8.10,-0.56),(8.38,-0.46),(8.49,-0.59),(7.95,-0.59),(8.23,-0.53),
    (7.85,-0.63),(7.90,-0.70),(7.96,-0.65),(8.01,-0.73),(8.07,-0.62),(8.12,-0.68),(8.17,-0.74),(8.23,-0.64),
    (8.28,-0.71),(8.34,-0.66),(8.39,-0.61),(8.44,-0.69),(8.49,-0.64),(8.54,-0.72),(8.59,-0.67),(8.64,-0.62),
    (8.69,-0.70),(8.75,-0.66),(8.80,-0.72),(8.15,-0.61),(8.47,-0.74),(7.99,-0.62),
    (7.87,-0.78),(7.93,-0.86),(7.98,-0.81),(8.04,-0.88),(8.10,-0.77),(8.16,-0.84),(8.22,-0.79),(8.27,-0.87),
    (8.33,-0.82),(8.39,-0.77),(8.45,-0.85),(8.50,-0.80),(8.55,-0.88),(8.60,-0.83),(8.65,-0.78),(8.71,-0.86),
    (8.77,-0.81),(8.13,-0.89),(8.42,-0.89),(7.91,-0.76),
    (7.89,-0.93),(7.95,-1.01),(8.01,-0.96),(8.07,-1.03),(8.13,-0.92),(8.19,-0.99),(8.25,-0.94),(8.31,-1.02),
    (8.37,-0.97),(8.43,-0.91),(8.48,-1.00),(8.53,-0.95),(8.58,-1.03),(8.63,-0.98),(8.68,-0.93),(8.74,-1.01),
    (8.80,-0.96),(8.55,-0.91),
    (7.91,-1.08),(7.98,-1.16),(8.05,-1.11),(8.12,-1.18),(8.19,-1.07),(8.26,-1.14),(8.32,-1.09),(8.38,-1.17),
    (8.45,-1.12),(8.51,-1.06),(8.57,-1.15),(8.62,-1.10),(8.68,-1.18),(8.74,-1.13),(8.79,-1.07),(8.52,-1.19),
    (7.93,-1.25),(8.02,-1.33),(8.11,-1.28),(8.20,-1.36),(8.28,-1.23),(8.36,-1.31),(8.44,-1.26),(8.51,-1.35),
    (8.57,-1.29),(8.63,-1.22),(8.69,-1.33),(8.75,-1.27),(8.81,-1.37),(8.47,-1.39),(8.66,-1.39),
    (7.96,-1.44),(8.08,-1.51),(8.22,-1.47),(8.35,-1.53),(8.46,-1.43),(8.56,-1.49),(8.64,-1.45),(8.72,-1.51),
    (7.79,-1.52),(8.02,-1.60),(8.04,-1.59),(8.10,-1.57),(8.23,-1.59),(8.27,-1.59),(7.95,-1.65),(7.95,-1.70),
    (8.07,-1.75),(8.16,-1.75),(8.30,-1.72),(8.34,-1.75),(8.09,-1.82),(7.99,-1.84),(8.41,-1.78),(8.46,-1.79),
    (8.60,-1.79),(8.67,-1.76),(8.15,-1.89),(8.20,-1.89),(8.35,-1.92),(8.38,-1.97),(8.68,-1.85),(8.78,-1.88),
    (8.70,-1.99),(7.80,-1.91),(7.83,-2.00),(8.14,-2.00),
    (7.90,-0.20),(7.97,-0.29),(8.03,-0.18),(8.10,-0.25),(8.16,-0.31),(8.22,-0.22),(8.28,-0.28),(8.35,-0.24),
    (8.40,-0.30),(8.50,-0.20),(8.60,-0.30),(7.91,-0.45),(7.98,-0.40),(8.05,-0.52),(8.11,-0.46),(8.17,-0.42),
    (8.24,-0.57),(8.28,-0.45),(8.33,-0.52),(8.41,-0.49),(8.54,-0.41),(8.65,-0.45),(8.72,-0.58),(7.88,-0.66),
    (7.94,-0.73),(8.04,-0.68),(8.10,-0.74),(8.20,-0.70),(8.26,-0.63),(8.31,-0.76),(8.42,-0.65),(8.52,-0.68),
    (8.57,-0.76),(8.62,-0.70),(8.73,-0.63),(7.90,-0.88),(7.96,-0.95),(8.06,-0.83),(8.11,-0.96),(8.19,-0.86),
    (8.29,-0.91),(8.35,-0.86),(8.46,-0.95),(8.58,-0.86),(8.66,-0.95),(8.73,-0.88),(7.94,-1.12),(8.02,-1.06),
    (8.09,-1.21),(8.16,-1.12),(8.23,-1.19),(8.29,-1.04),(8.41,-1.06),(8.48,-1.21),(8.59,-1.20),(8.71,-1.07),
    (8.77,-1.21),
]

blue_right = [
    (9.11,0.12),(9.62,0.02),(9.02,-0.07),(8.90,-0.19),(8.90,-0.27),(8.96,-0.27),(9.22,-0.22),(9.26,-0.27),
    (8.87,-0.34),(8.90,-0.40),(8.99,-0.43),(9.11,-0.45),(9.53,-0.56),(8.88,-0.62),(8.94,-0.64),(8.97,-0.69),
    (8.95,-0.72),(8.87,-0.71),(9.09,-0.73),(9.17,-0.70),(9.58,-0.73),(9.61,-0.77),(9.47,-0.76),(9.60,-0.85),
    (8.97,-0.84),(9.38,-0.88),(9.40,-0.94),(9.46,-0.99),(9.66,-0.99),(8.93,-0.92),(8.92,-0.93),(8.96,-0.91),
    (9.02,-0.91),(8.88,-0.98),(8.92,-1.00),(8.83,-1.02),(8.82,-1.08),(8.86,-1.08),(9.64,-1.10),(9.69,-1.10),
    (8.98,-1.14),(8.87,-1.13),(8.89,-1.12),(8.82,-1.20),(9.52,-1.20),(9.69,-1.21),(9.22,-1.23),(9.58,-1.30),
    (8.94,-1.28),(8.82,-1.28),(9.54,-1.34),(9.50,-1.35),(9.45,-1.35),(8.96,-1.36),(8.81,-1.39),(8.87,-1.43),
    (9.15,-1.43),(9.23,-1.43),(8.91,-1.46),(8.94,-1.46),(8.96,-1.46),(9.27,-1.47),(9.45,-1.49),(9.49,-1.48),
    (9.33,-1.52),(9.35,-1.49),(9.63,-1.53),(9.66,-1.53),(8.84,-1.51),(8.94,-1.54),(9.02,-1.60),(9.04,-1.60),
    (9.09,-1.60),(9.10,-1.60),(9.16,-1.61),(9.33,-1.63),(9.41,-1.62),(9.58,-1.62),(9.60,-1.67),(9.59,-1.68),
    (8.97,-1.67),(9.30,-1.75),(9.35,-1.72),(9.05,-1.82),(9.15,-1.83),(9.30,-1.80),(9.25,-1.80),(9.42,-1.83),
    (9.69,-1.83),(8.93,-1.88),(8.94,-1.92),(9.07,-1.88),(9.17,-1.89),(9.22,-1.88),(9.34,-1.88),(9.09,-1.95),
    (8.98,-1.98),(9.65,-1.90),(9.61,-1.95),(9.62,-2.03),(8.90,-2.10),(8.86,-2.48),
]

orange = [
    (8.08,0.60),(8.21,0.03),(8.16,-0.23),(8.18,-0.27),(8.12,-0.30),(8.05,-0.31),(8.06,-0.34),(8.33,-0.29),
    (8.32,-0.35),(8.37,-0.39),(8.42,-0.23),(8.45,-0.24),(8.06,-0.41),(8.08,-0.44),(8.13,-0.40),(8.31,-0.43),
    (8.42,-0.42),(8.48,-0.47),(8.53,-0.47),(8.13,-0.48),(8.15,-0.51),(8.19,-0.54),(8.22,-0.58),(8.39,-0.52),
    (8.58,-0.50),(8.63,-0.52),(8.70,-0.59),(8.19,-0.61),(8.24,-0.63),(8.27,-0.65),(8.29,-0.59),(8.33,-0.61),
    (8.36,-0.69),(8.40,-0.72),(8.17,-0.76),(8.19,-0.77),(8.26,-0.74),(8.31,-0.76),(8.35,-0.79),(8.38,-0.80),
    (8.31,-0.80),(8.33,-0.85),(8.32,-0.88),(8.44,-0.83),(8.50,-0.80),(8.53,-0.83),(8.77,-0.80),(8.79,-0.81),
    (8.24,-0.87),(8.22,-0.88),(8.27,-0.94),(8.30,-0.95),(8.33,-0.94),(8.36,-0.96),(8.39,-0.95),(8.41,-0.96),
    (8.50,-0.94),(8.53,-0.94),(8.33,-0.97),(8.35,-0.98),(8.39,-0.98),(8.40,-0.99),(8.31,-1.01),(8.36,-1.01),
    (8.42,-1.00),(8.29,-1.06),(8.33,-1.08),(8.36,-1.05),(8.39,-1.05),(8.30,-1.10),(8.33,-1.12),(8.36,-1.12),
    (8.40,-1.10),(8.43,-1.09),(8.45,-1.14),(8.35,-1.16),(8.39,-1.17),(8.42,-1.15),(8.47,-1.17),(8.50,-1.20),
    (8.53,-1.15),(8.40,-1.21),(8.44,-1.25),(8.49,-1.23),(8.53,-1.23),(8.55,-1.27),(8.57,-1.28),(8.61,-1.25),
    (8.53,-1.30),(8.56,-1.32),(8.59,-1.33),(8.62,-1.35),(8.64,-1.37),(8.43,-1.33),(8.46,-1.35),(8.49,-1.39),
    (8.59,-1.38),(8.61,-1.39),(8.63,-1.41),(8.46,-1.41),(8.50,-1.41),(8.53,-1.44),(8.68,-1.41),(8.72,-1.43),
    (8.76,-1.35),(8.78,-1.45),(8.75,-1.52),(8.71,-1.52),(8.57,-1.48),(8.62,-1.53),(8.65,-1.52),(8.55,-1.57),
    (8.61,-1.56),(8.39,-1.55),(8.33,-1.59),(8.22,-1.34),(8.10,-1.27),(8.16,-1.45),(8.65,-1.63),(8.67,-1.65),
    (8.65,-1.74),(8.80,-1.67),(8.82,-1.75),(8.83,-1.88),(8.84,-1.99),(8.55,-1.84),(8.25,-1.69),(8.32,-1.67),
    (8.49,-2.06),(8.45,-2.14),(8.36,-2.22),(8.70,-2.18),(8.79,-2.13),
    (8.82,-0.42),(8.87,-0.46),(9.00,-0.74),(8.91,-1.13),(8.91,-1.20),(8.95,-1.25),(8.93,-1.35),(9.00,-1.34),
    (9.04,-1.39),(9.22,-1.43),(8.89,-1.47),(9.00,-1.48),(8.98,-1.53),(9.08,-1.46),(9.13,-1.48),(9.10,-1.45),
    (9.15,-1.56),(8.86,-1.54),(8.82,-1.56),(9.01,-1.59),(8.85,-1.60),(8.93,-1.67),(8.88,-1.72),(8.97,-1.74),
    (8.98,-1.78),(8.97,-1.82),(8.98,-1.84),(9.09,-1.74),(9.18,-1.73),(9.30,-1.69),(8.83,-1.75),(8.95,-1.86),
    (8.99,-1.90),(9.06,-1.86),(9.29,-1.87),(9.21,-2.00),(8.87,-2.03),(8.91,-2.17),(9.04,-2.19),(9.62,-2.39),
    (9.14,-2.48),(9.67,-1.99),
    (8.28,-0.91),(8.31,-0.98),(8.34,-1.03),(8.37,-0.92),(8.38,-1.08),(8.41,-1.02),(8.44,-1.11),(8.46,-1.05),
    (8.32,-1.14),(8.37,-1.19),(8.26,-1.02),(8.30,-0.85),(8.35,-0.90),(8.43,-0.88),(8.47,-1.27),(8.52,-1.36),
    (8.58,-1.42),(8.60,-1.30),(8.66,-1.44),(8.69,-1.49),(8.26,-0.81),(8.20,-0.69),(8.29,-0.70),(8.45,-0.73),
    (8.56,-0.60),(8.10,-0.52),(8.25,-0.46),(8.35,-0.56),
]

t_cut = 7.1e8
xticks = [1e6, 1e7, 1e8, 1e9]
xlabels = [r'$10^{6}$', r'$10^{7}$', r'$10^{8}$', r'$10^{9}$']
yticks = [0.01, 0.1, 1.0, 10.0]
ylabels = ['0.01', '0.10', '1.00', '']


def unlog(pts):
    a = np.array(pts)
    return 10 ** a[:, 0], 10 ** a[:, 1]


W, H = 879, 658
fig = plt.figure(figsize=(W / 100, H / 100), dpi=100)
ax = fig.add_axes([172 / W, (H - 567.5) / H, 706 / W, 511 / H])

blue = blue_left + blue_upper + blue_core + blue_core_dense + blue_core_fill + blue_lower + blue_second + blue_right
bx, by = unlog(blue)
ox, oy = unlog(orange)
ax.plot(bx, by, ls='none', marker='D', ms=2.4, mfc='none', mec='#0000ff', mew=0.8)
ax.plot(ox, oy, ls='none', marker='D', ms=2.4, mfc='none', mec='#ff5a1e', mew=0.8)
ax.axvline(t_cut, color='#10b4f0', lw=3.6, dashes=(3.4, 2.6))

ax.set_xscale('log')
ax.set_yscale('log')
ax.set_xlim(5e5, 5e9)
ax.set_ylim(2e-3, 10)
ax.set_xticks(xticks, xlabels)
ax.set_yticks(yticks, ylabels, fontsize=20, fontweight=200)
ax.xaxis.set_minor_formatter(plt.NullFormatter())
ax.yaxis.set_minor_formatter(plt.NullFormatter())
ax.tick_params(which='both', direction='in', top=True, right=True, width=1.1, color='black')
ax.tick_params(which='major', length=10.5)
ax.tick_params(which='minor', length=5.3)
ax.tick_params(axis='x', which='major', pad=15, labelsize=20)
ax.tick_params(axis='y', which='major', pad=10)
for s in ax.spines.values():
    s.set_linewidth(1.5)


def px(x, y):
    return x / W, 1 - y / H


thin = dict(fontweight=200)
fig.text(*px(158, 68), '10.00', fontsize=20, ha='right', va='center', **thin)
fig.text(*px(525, 40), 'EXIT EVENTS (SUBSET)', fontsize=25.5, ha='center', va='baseline', **thin)
fig.text(*px(524, 645), 'Ωt', fontsize=20, ha='center', va='baseline', **thin)
fig.text(*px(44, 312), r'E / mc$^2$', fontsize=21, rotation=90, ha='right', va='center', **thin)

# run parameters (the greek letters are italic, regular weight)
fig.text(*px(226, 103), 'α', fontsize=18, style='italic', fontweight='normal', va='baseline')
fig.text(*px(246, 103), 'l', fontsize=18, va='baseline', **thin)
fig.text(*px(226, 134), 'η', fontsize=18, style='italic', fontweight='normal', va='baseline')
fig.text(*px(226, 163), 'N', fontsize=18, va='baseline', **thin)
fig.text(*px(246, 168), 'k', fontsize=12, va='baseline', **thin)
for xeq, val, xval, yb in [(268, '0.05', 321, 103), (262, '6.84', 312, 134), (273, '5000', 311, 163)]:
    fig.text(*px(xeq, yb), '=', fontsize=18, va='baseline', **thin)
    fig.text(*px(xval, yb), val, fontsize=18, va='baseline', **thin)

for lab, col, yb in [('0', '#0000ff', 115), ('H', '#ff5a1e', 170)]:
    kw = dict(fontsize=25, fontweight='bold', color=col, va='baseline', family='Liberation Sans')
    fig.text(*px(715, yb), 'z', **kw)
    fig.text(*px(758, yb), '=', **kw)
    fig.text(*px(809, yb), lab, **kw)

fig.savefig('out.png', dpi=100)
